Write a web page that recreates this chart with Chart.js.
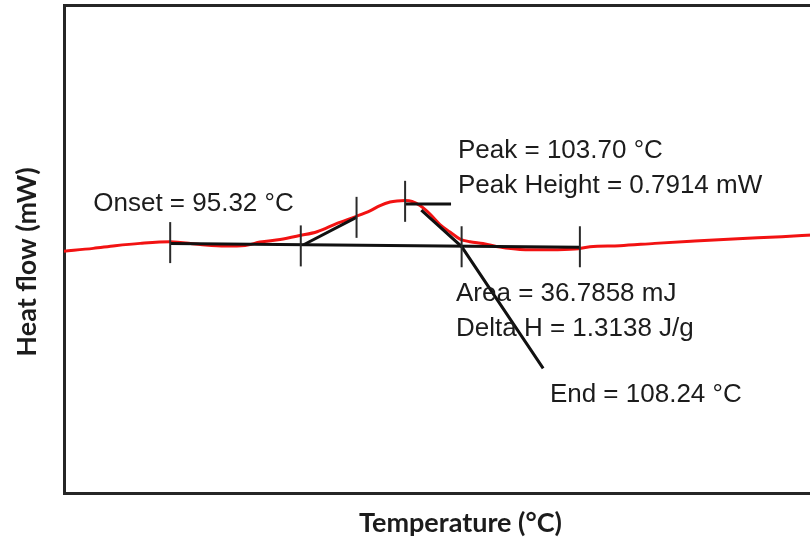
<!DOCTYPE html>
<html>
<head>
<meta charset="utf-8">
<script src="https://cdn.jsdelivr.net/npm/chart.js@4/dist/chart.umd.min.js"></script>
<style>
  html, body { margin: 0; padding: 0; background: #fff; overflow: hidden; width: 810px; height: 544px; }
  canvas { display: block; }
</style>
</head>
<body>
<canvas id="dsc" width="859" height="544"></canvas>
<script>
// DSC scan: heat flow (mW) against temperature (°C)
const tempC = [76.3, 78.65, 80.41, 82.42, 84.83, 87.24, 89.24, 90.85, 92.05, 93.66,
  95.26, 96.63, 98.23, 99.84, 100.88, 101.69, 102.49, 103.05, 103.70, 104.26,
  104.90, 105.70, 106.50, 107.31, 108.11, 108.91, 109.95, 111.32, 112.93, 115.33,
  117.34, 118.55, 120.95, 123.76, 126.97, 130.43, 133.96, 136.4];
const heatFlow = [-0.11, -0.059, -0.012, 0.030, 0.059, 0.009, -0.018, -0.009, 0.053, 0.098,
  0.169, 0.237, 0.386, 0.516, 0.610, 0.703, 0.765, 0.785, 0.7914, 0.775,
  0.703, 0.552, 0.365, 0.231, 0.107, 0.059, 0.027, -0.036, -0.077, -0.085,
  -0.071, -0.030, -0.012, 0.030, 0.071, 0.112, 0.148, 0.18];

// integration baseline
const baseT = [84.83, 117.74];
const baseHF = [0.030, -0.039];
// leading-edge tangent (onset)
const onsetT = [95.55, 99.82];
const onsetHF = [0.005, 0.498];
// trailing-edge tangent (end)
const endT = [105.0, 108.24, 114.79];
const endHF = [0.62, -0.027, -2.194];
// peak level
const peakT = [103.70, 107.39];
const peakHF = [0.73, 0.73];
// analysis markers
const markT = [84.83, 95.32, 99.80, 103.70, 108.24, 117.74];
const markHF = [0.044, -0.015, 0.493, 0.778, -0.030, -0.030];
// result labels, anchored in data units
const noteText = ['Onset = 95.32 °C', 'Peak = 103.70 °C', 'Peak Height = 0.7914 mW',
  'Area = 36.7858 mJ', 'Delta H = 1.3138 J/g', 'End = 108.24 °C'];
const noteT = [78.65, 107.95, 107.95, 107.79, 107.79, 115.33];
const noteHF = [0.61, 1.55, 0.93, -0.99, -1.61, -2.80];

const zip = (xs, ys) => xs.map((x, i) => ({ x: x, y: ys[i] }));

const INK = '#1c1c1c';

const blackLine = (xs, ys) => ({
  data: zip(xs, ys), borderColor: '#111', borderWidth: 3, pointRadius: 0,
  fill: false, tension: 0, order: 1
});

const notesPlugin = {
  id: 'notes',
  afterDatasetsDraw(chart) {
    const { ctx, scales } = chart;
    ctx.save();
    ctx.fillStyle = INK;
    ctx.font = '26px "Liberation Sans", Arial, sans-serif';
    ctx.textAlign = 'left';
    ctx.textBaseline = 'alphabetic';
    noteText.forEach((t, i) => {
      ctx.fillText(t, scales.x.getPixelForValue(noteT[i]), scales.y.getPixelForValue(noteHF[i]));
    });
    ctx.restore();
  },
  afterDraw(chart) {
    const { ctx, chartArea } = chart;
    ctx.save();
    ctx.fillStyle = INK;
    ctx.font = 'bold 27px Lato, sans-serif';
    ctx.textAlign = 'center';
    ctx.textBaseline = 'middle';
    ctx.translate(27, (chartArea.top + chartArea.bottom) / 2 + 13);
    ctx.rotate(-Math.PI / 2);
    ctx.fillText('Heat flow (mW)', 0, 0);
    ctx.restore();
  }
};

const frame = { display: true, color: '#262626', width: 3 };
const noGrid = { display: false, drawTicks: false };

new Chart(document.getElementById('dsc'), {
  type: 'line',
  data: {
    datasets: [
      {
        data: zip(markT, markHF), showLine: false, pointStyle: 'line', rotation: 90,
        pointRadius: 20.5, borderColor: '#2a2a2a', borderWidth: 2, order: 0
      },
      blackLine(baseT, baseHF),
      blackLine(onsetT, onsetHF),
      blackLine(endT, endHF),
      blackLine(peakT, peakHF),
      {
        data: zip(tempC, heatFlow), borderColor: '#f21212', borderWidth: 3,
        pointRadius: 0, fill: false, cubicInterpolationMode: 'monotone', order: 5
      }
    ]
  },
  options: {
    responsive: false,
    animation: false,
    devicePixelRatio: 1,
    layout: { autoPadding: false, padding: { left: 64, right: 2, top: 5, bottom: 4.8 } },
    plugins: { legend: { display: false }, tooltip: { enabled: false } },
    scales: {
      x: {
        type: 'linear', position: 'bottom', min: 76.3, max: 140.0,
        grid: noGrid, ticks: { display: false }, border: frame,
        title: {
          display: true, text: 'Temperature (°C)', color: INK,
          font: { family: 'Lato', size: 27, weight: 'bold' },
          padding: { top: 13.8, bottom: 0 }
        }
      },
      xTop: {
        type: 'linear', position: 'top', min: 76.3, max: 140.0,
        grid: noGrid, ticks: { display: false }, border: frame
      },
      y: {
        type: 'linear', position: 'left', min: -4.41, max: 4.27,
        grid: noGrid, ticks: { display: false }, border: frame
      }
    }
  },
  plugins: [notesPlugin]
});
</script>
</body>
</html>
